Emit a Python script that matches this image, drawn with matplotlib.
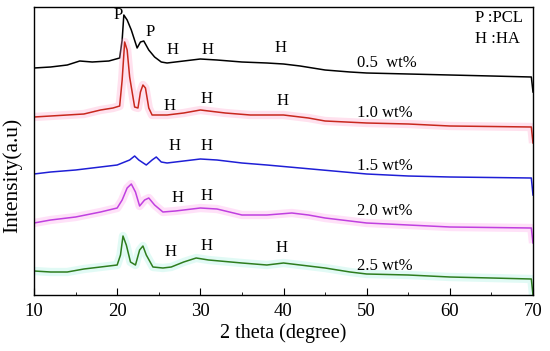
import matplotlib
matplotlib.use('Agg')
import matplotlib.pyplot as plt
from matplotlib.ticker import MultipleLocator

plt.rcParams['font.family'] = ['Liberation Serif', 'DejaVu Serif']

# curves (y = height above the bottom axis, arbitrary units)
x_05 = [10, 12, 14, 15.5, 17, 19, 20.3, 20.6, 20.8, 21.2, 21.7, 22.4, 22.8, 23.2, 23.8, 24.5, 25.3, 26, 28, 30,
        32, 35, 38, 40, 42, 45, 48, 50, 55, 60, 65, 69.8, 70]
y_05 = [68, 67, 65, 61, 62, 61, 58, 40, 15, 20, 30, 48, 42, 41, 50, 57, 62, 63, 61, 59,
        60, 62, 63, 64, 66, 70, 72, 73, 74, 75, 76, 77, 92]

x_10 = [10, 12, 14, 16, 18, 19.5, 20.3, 20.6, 20.9, 21.2, 21.5, 22.1, 22.5, 22.8, 23.1, 23.4, 23.8, 24.2, 26, 28,
        30, 33, 36, 40, 43, 45, 50, 55, 60, 65, 69.8, 70]
y_10 = [117, 116, 115, 114, 110, 108, 106, 80, 42, 50, 77, 107, 108, 92, 85, 88, 108, 115, 115, 113,
        110, 113, 115, 115, 118, 121, 123, 124, 126, 126.5, 127, 143]

x_15 = [10, 12, 15, 18, 20, 21.5, 22.1, 22.6, 23.5, 24.2, 24.7, 25.3, 26, 28, 30, 32, 35, 38, 42, 46,
        50, 55, 60, 65, 69.8, 70]
y_15 = [174, 172, 170, 167, 165, 160, 156, 160, 165, 160, 157, 162, 163, 161, 159, 160, 163, 165, 168, 171,
        174, 176, 177, 177.5, 178, 195]

x_20 = [10, 12, 15, 18, 20, 20.6, 21.2, 21.7, 22.2, 22.7, 23.3, 23.8, 24.5, 25.5, 27, 30, 32, 35, 38, 41,
        43, 45, 48, 50, 55, 60, 65, 69.8, 70]
y_20 = [223, 220, 217, 212, 208, 200, 188, 184, 192, 206, 200, 198, 205, 212, 211, 208, 209, 215, 215, 213,
        215, 218, 221, 223, 225, 227, 227.5, 228, 243]

x_25 = [10, 12, 14, 16, 18, 20, 20.4, 20.7, 21.1, 21.6, 22.2, 22.7, 23.1, 23.5, 24.3, 25.5, 26.5, 28, 29.5, 31,
        35, 38, 40, 42, 45, 48, 50, 55, 60, 65, 69.8, 70]
y_25 = [271, 272, 272, 269, 267, 265, 255, 236, 245, 262, 265, 250, 246, 255, 267, 268, 267, 262, 258, 260,
        263, 265, 263, 265, 268, 272, 274, 275, 277, 278, 279, 295]

curves = [(x_05, y_05, 'black', None), (x_10, y_10, '#c8281e', '#ff9ec8'), (x_15, y_15, '#1f1fd6', None),
          (x_20, y_20, '#c040e0', '#ff9ee8'), (x_25, y_25, '#2e7d1e', '#9ef0e0')]
labels = ['0.5  wt%', '1.0 wt%', '1.5 wt%', '2.0 wt%', '2.5 wt%']
label_y = [63, 113, 166, 211, 266]

# peak markers: (x, y, text)
peak_marks = [(20.1, 15, 'P'), (24.0, 32, 'P'),
              (26.6, 50, 'H'), (30.9, 50, 'H'), (39.6, 48, 'H'),
              (26.3, 106, 'H'), (30.7, 99, 'H'), (39.9, 101, 'H'),
              (26.9, 146, 'H'), (30.7, 146, 'H'),
              (27.3, 198, 'H'), (30.8, 196, 'H'),
              (26.4, 252, 'H'), (30.8, 246, 'H'), (39.8, 248, 'H')]

fig = plt.figure(figsize=(5.5, 3.51), dpi=100)
ax = fig.add_axes([34 / 550, 56 / 351, 499 / 550, 288 / 351])

for xs, ys, col, halo in curves:
    yy = [295 - v for v in ys]
    if halo:
        ax.plot(xs, yy, color=halo, lw=6, alpha=0.3, solid_capstyle='butt')
    ax.plot(xs, yy, color=col, lw=1.1)

for lab, ly in zip(labels, label_y):
    ax.text(48.8, 295 - ly, lab, fontsize=12, ha='left', va='center')

for px, py, t in peak_marks:
    ax.text(px, 295 - py, t, fontsize=12, ha='center', va='center')

ax.text(63.0, 295 - 18, 'P :PCL', fontsize=12, ha='left', va='center')
ax.text(63.0, 295 - 39, 'H :HA', fontsize=12, ha='left', va='center')

ax.set_xlim(10, 70)
ax.set_ylim(0, 288)
ax.xaxis.set_major_locator(MultipleLocator(10))
ax.xaxis.set_minor_locator(MultipleLocator(5))
ax.tick_params(axis='x', which='major', direction='in', length=5, labelsize=13.5, pad=6)
ax.tick_params(axis='x', which='minor', direction='in', length=2.5)
ax.set_yticks([])
for s in ax.spines.values():
    s.set_linewidth(1.0)

ax.set_xlabel('2 theta (degree)', fontsize=14.5, labelpad=2)
ax.set_ylabel('Intensity(a.u)', fontsize=15.5)
ax.yaxis.set_label_coords(-0.024, 0.417)

fig.savefig('out.png', dpi=100)
